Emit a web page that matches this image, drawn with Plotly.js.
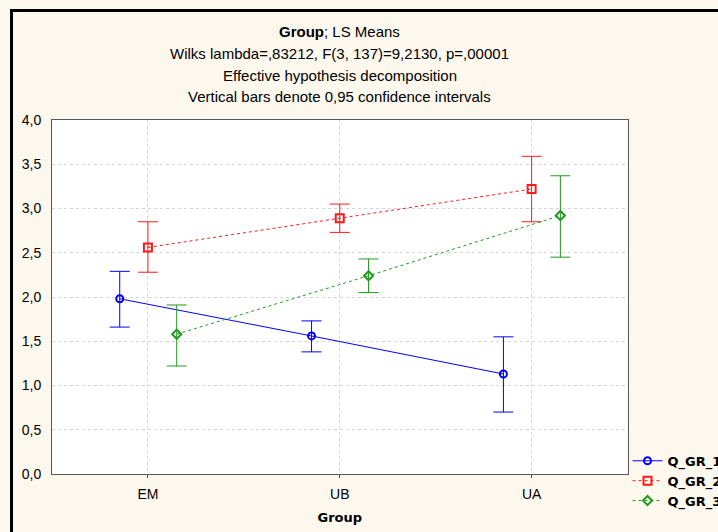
<!DOCTYPE html>
<html>
<head>
<meta charset="utf-8">
<script src="https://cdn.plot.ly/plotly-3.0.1.min.js"></script>
<style>
  html, body { margin: 0; padding: 0; background: #fdf8ee; overflow: hidden; }
  #wrap { position: relative; width: 718px; height: 532px; }
  #chart { position: absolute; left: 0; top: 0; width: 718px; height: 532px; }
  #frame { position: absolute; left: 10px; top: 9px; width: 720px; height: 540px;
           border-left: 3px solid #000; border-top: 3px solid #000; pointer-events: none; }
</style>
</head>
<body>
<div id="wrap"><div id="chart"></div><div id="frame"></div></div>
<script>
// ---- data ----
const categories = ["EM", "UB", "UA"];
const seriesNames = ["Q_GR_1", "Q_GR_2", "Q_GR_3"];
const q1Mean = [1.98, 1.56, 1.13];
const q1Low  = [1.66, 1.38, 0.70];
const q1High = [2.29, 1.73, 1.55];
const q2Mean = [2.56, 2.89, 3.22];
const q2Low  = [2.28, 2.73, 2.85];
const q2High = [2.85, 3.05, 3.59];
const q3Mean = [1.58, 2.24, 2.92];
const q3Low  = [1.22, 2.05, 2.45];
const q3High = [1.91, 2.43, 3.37];
const titleLines = [
  "<b>Group</b>; LS Means",
  "Wilks lambda=,83212, F(3, 137)=9,2130, p=,00001",
  "Effective hypothesis decomposition",
  "Vertical bars denote 0,95 confidence intervals"
];
const xTitle = "Group";

// ---- styles ----
const colors = ["#0000ff", "#ff1a1a", "#1f9a1f"];
const dashes = ["solid", "dot", "dot"];
const symbols = ["circle-open", "square-open", "diamond-open"];
const offsets = [-0.147, 0, 0.15];
const means = [q1Mean, q2Mean, q3Mean];
const lows = [q1Low, q2Low, q3Low];
const highs = [q1High, q2High, q3High];
const ARIAL = "Liberation Sans, Arial, sans-serif";
const BOLDFONT = "DejaVu Sans, Verdana, sans-serif";

const traces = seriesNames.map((name, s) => ({
  type: "scatter",
  mode: "lines+markers",
  name: name,
  x: categories.map((c, i) => i + offsets[s]),
  y: means[s],
  line: { color: colors[s], width: 1, dash: dashes[s] },
  marker: { symbol: symbols[s], size: s === 1 ? 8 : 7, color: colors[s], line: { width: 2, color: colors[s] } },
  error_y: {
    type: "data", symmetric: false,
    array: means[s].map((m, i) => highs[s][i] - m),
    arrayminus: means[s].map((m, i) => m - lows[s][i]),
    color: colors[s], thickness: 1, width: 10
  }
}));

const yTitlePos = [1.2514, 1.189, 1.127, 1.065];
const annotations = titleLines.map((t, i) => ({
  text: t, xref: "paper", yref: "paper", x: 0.5, y: yTitlePos[i],
  xanchor: "center", yanchor: "middle", showarrow: false,
  font: { family: ARIAL, size: 15, color: "#000" }
}));

const layout = {
  width: 718, height: 532,
  margin: { l: 52, r: 90, t: 120, b: 58 },
  paper_bgcolor: "rgba(0,0,0,0)",
  plot_bgcolor: "#ffffff",
  separators: ",.",
  font: { family: ARIAL, size: 14, color: "#000" },
  showlegend: true,
  legend: {
    xref: "container", yref: "container",
    x: 0.874, xanchor: "left", y: 0.162, yanchor: "top",
    bgcolor: "rgba(0,0,0,0)",
    font: { family: BOLDFONT, size: 13, color: "#000", weight: "bold" },
    tracegroupgap: 0, itemwidth: 30
  },
  xaxis: {
    range: [-0.5, 2.5],
    tickmode: "array", tickvals: categories.map((c, i) => i), ticktext: categories,
    showgrid: true, gridcolor: "#d6d6d6", griddash: "dot", gridwidth: 1,
    zeroline: false, showline: true, linecolor: "#555555", linewidth: 1, mirror: true,
    ticks: "outside", ticklen: 3, tickcolor: "#555555", ticklabelstandoff: 4,
    title: { text: "<b>" + xTitle + "</b>", standoff: 12, font: { family: BOLDFONT, size: 13 } }
  },
  yaxis: {
    range: [0, 4], dtick: 0.5, tickformat: ".1f",
    showgrid: true, gridcolor: "#d6d6d6", griddash: "dot", gridwidth: 1,
    zeroline: false, showline: true, linecolor: "#555555", linewidth: 1, mirror: true,
    ticks: "", ticklabelstandoff: 7
  },
  annotations: annotations
};

Plotly.newPlot("chart", traces, layout, { displayModeBar: false, staticPlot: true });
</script>
</body>
</html>
